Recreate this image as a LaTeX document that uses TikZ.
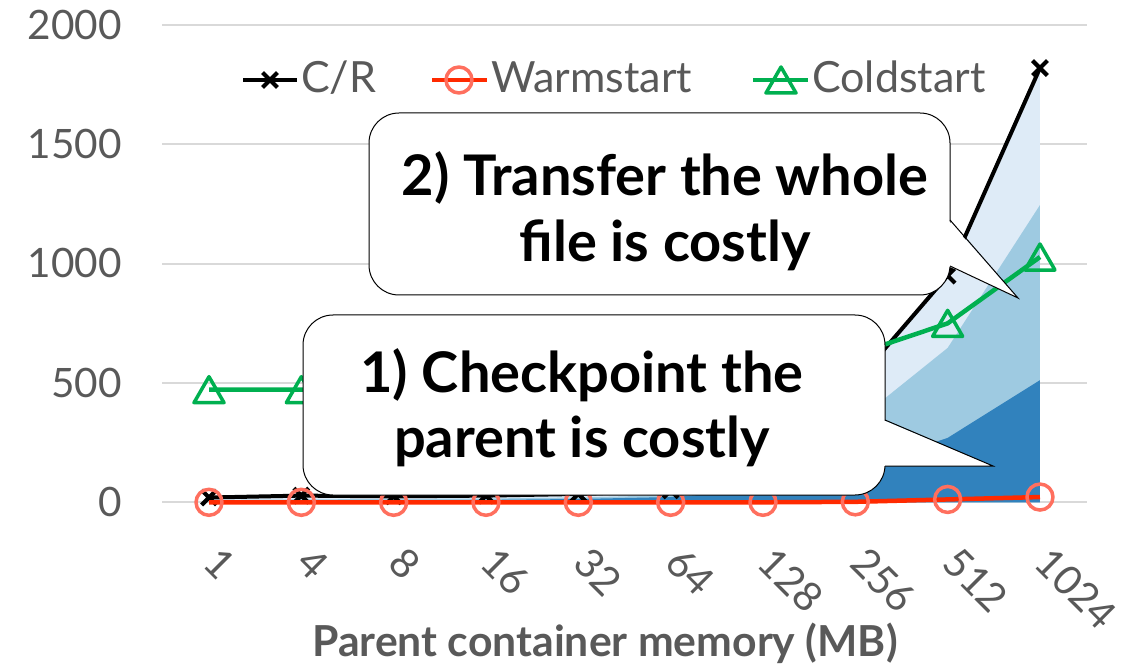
\documentclass[tikz,border=0pt]{standalone}
\usepackage{fontspec}
\setmainfont{Lato}
\usetikzlibrary{plotmarks}

\definecolor{labelgrey}{HTML}{595959}
\definecolor{gridgrey}{HTML}{D9D9D9}
\definecolor{warmred}{HTML}{FF2A00}
\definecolor{warmmark}{HTML}{FF6F5E}
\definecolor{coldgreen}{HTML}{00B050}
\definecolor{bluedark}{HTML}{3182BD}
\definecolor{bluemid}{HTML}{9ECAE1}
\definecolor{bluelight}{HTML}{DEEBF7}

% open triangle marker, centred on its bounding box
\pgfdeclareplotmark{opentri}{%
  \pgfpathmoveto{\pgfqpoint{0pt}{13pt}}%
  \pgfpathlineto{\pgfqpoint{-15pt}{-13pt}}%
  \pgfpathlineto{\pgfqpoint{15pt}{-13pt}}%
  \pgfpathclose\pgfusepathqstroke}

\tikzset{
  gridline/.style={draw=gridgrey, line width=2pt},
  ticklab/.style={text=labelgrey, font=\fontsize{40.5}{48}\selectfont, inner sep=0pt},
  legendlab/.style={text=labelgrey, font=\fontsize{43}{50}\selectfont, inner sep=0pt, anchor=base west},
  axistitle/.style={text=labelgrey, font=\bfseries\fontsize{42.7}{50}\selectfont, inner sep=0pt, anchor=base},
  calltext/.style={text=black, font=\bfseries\fontsize{56}{66}\selectfont, inner sep=0pt, anchor=base},
  callbox/.style={fill=white, draw=black, line width=1pt, rounded corners=30pt},
  calledge/.style={draw=black, line width=1pt, line join=miter},
  crline/.style={draw=black, line width=4pt, line join=round},
  crmarks/.style={mark=x, mark size=10.5pt, mark options={draw=black, line width=4.2pt, solid}},
  warmline/.style={draw=warmred, line width=4.5pt, line join=round},
  warmmarks/.style={mark=o, mark size=13pt, mark options={draw=warmmark, line width=3.5pt, solid}},
  coldline/.style={draw=coldgreen, line width=4.5pt, line join=round},
  coldmarks/.style={mark=opentri, mark options={draw=coldgreen, line width=3.5pt, solid}},
}

\begin{document}
\begin{tikzpicture}[x=1pt, y=-1pt]
\useasboundingbox (0,0) rectangle (1143,668);
\fill[white] (0,0) rectangle (1143,668);

% horizontal gridlines and value labels
\foreach \v in {0,500,1000,1500,2000} {
  \pgfmathsetmacro\gy{502.3-0.2386*\v}
  \draw[gridline] (162,\gy) -- (1087,\gy);
  \node[ticklab, anchor=base east] (ylab\v) at (122,\gy+14.3) {\v};
}

% data area: x = category index, y = time
\begin{scope}[shift={(209,502.3)}, x=92.33pt, y=0.2386pt]
  % stacked components of the C/R time
  \fill[bluelight] (0,0) -- (0,18) -- (1,25) -- (2,25) -- (3,28) -- (4,35) -- (5,50)
    -- (6,110) -- (7,500) -- (8,950) -- (9,1820) -- (9,0) -- cycle;
  \fill[bluemid] (0,0) -- (0,10) -- (1,12) -- (2,14) -- (3,16) -- (4,20) -- (5,30)
    -- (6,70) -- (7,336) -- (8,647) -- (9,1246) -- (9,0) -- cycle;
  \fill[bluedark] (0,0) -- (0,5) -- (1,6) -- (2,8) -- (3,10) -- (4,14) -- (5,22)
    -- (6,50) -- (7,140) -- (8,270) -- (9,512) -- (9,0) -- cycle;

  % C/R
  \draw[crline, crmarks] plot coordinates {(0,20) (1,28) (2,25) (3,28) (4,35) (5,50)
    (6,110) (7,500) (8,950) (9,1820)};
  % Warmstart
  \draw[warmline, warmmarks] plot coordinates {(0,0) (1,0) (2,0) (3,0) (4,0) (5,0)
    (6,0) (7,2) (8,12) (9,22)};
  % Coldstart
  \draw[coldline, coldmarks] plot coordinates {(0,472) (1,472) (2,480) (3,490) (4,500)
    (5,510) (6,560) (7,620) (8,750) (9,1028)};
\end{scope}

% category labels
\foreach \lab [count=\i from 0] in {1,4,8,16,32,64,128,256,512,1024} {
  \node[ticklab, rotate=-45, anchor=west] (xlab\i) at (212+92.33*\i,555) {\lab};
}
\node[axistitle] (xtitle) at (605,656) {Parent container memory (MB)};

% legend
\draw[crline] (243,80) -- (297,80);
\draw[crline, crmarks] plot coordinates {(270,80)};
\node[legendlab] (legcr) at (301,93) {C/R};
\draw[warmline] (432,80) -- (487,80);
\draw[warmline, warmmarks] plot coordinates {(459,80)};
\node[legendlab] (legwarm) at (491,93) {Warmstart};
\draw[coldline] (753,80) -- (808,80);
\draw[coldline, coldmarks] plot coordinates {(781,80)};
\node[legendlab] (legcold) at (812,93) {Coldstart};

% callout 2
\draw[callbox] (369,113) rectangle (950,295);
\fill[white] (948,220) -- (1018,298) -- (948,266) -- cycle;
\draw[calledge] (950,220) -- (1018,298) -- (950,266);
\node[calltext] (calltwoa) at (665,196) {2) Transfer the whole};
\node[calltext] (calltwob) at (665,262) {file is costly};

% callout 1
\draw[callbox] (303,315) rectangle (885,495);
\fill[white] (883,420) -- (993,466) -- (883,466) -- cycle;
\draw[calledge] (885,420) -- (993,466) -- (885,466);
\node[calltext] (callonea) at (582,392) {1) Checkpoint the};
\node[calltext] (calloneb) at (582,457) {parent is costly};
\end{tikzpicture}
\end{document}
